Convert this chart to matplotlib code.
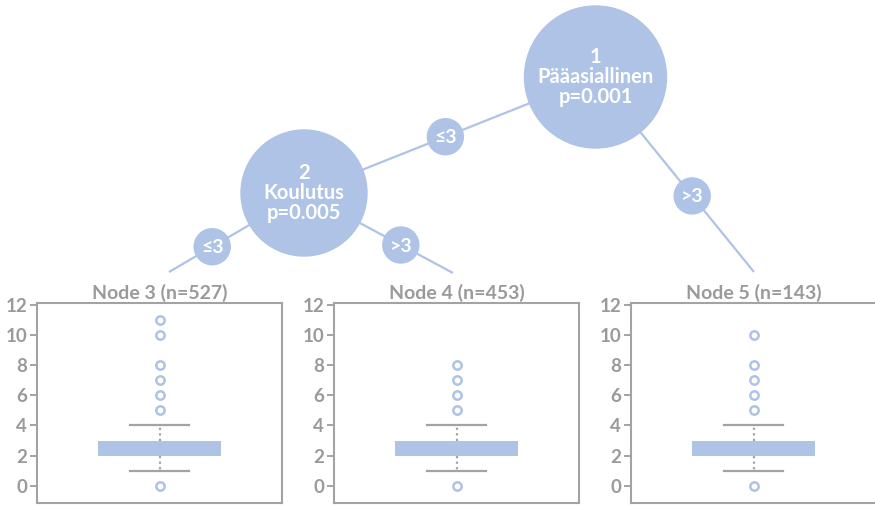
import matplotlib
matplotlib.use("Agg")
import matplotlib.pyplot as plt
from matplotlib.patches import Circle

# tree content
innerIds = [1, 2]
innerVars = ["Pääasiallinen", "Koulutus"]
innerP = ["0.001", "0.005"]
splitLabels = ["≤3", ">3", "≤3", ">3"]

# terminal nodes (box plot statistics)
leafIds = [3, 4, 5]
leafN = [527, 453, 143]
q1 = [2, 2, 2]
med = [2, 2, 2]
q3 = [3, 3, 3]
whisLo = [1, 1, 1]
whisHi = [4, 4, 4]
fliers = [
    [0, 5, 6, 7, 8, 10, 11],
    [0, 5, 6, 7, 8],
    [0, 5, 6, 7, 8, 10],
]

BLUE = "#aec3e6"
GREY = "#a3a3a3"
TXT = "#9a9a9a"
plt.rcParams["font.family"] = ["Lato", "DejaVu Sans"]

W, H = 875, 505
fig = plt.figure(figsize=(W / 100, H / 100), dpi=100)

# background axes in pixel coordinates for the tree
bg = fig.add_axes([0, 0, 1, 1])
bg.set_xlim(0, W)
bg.set_ylim(H, 0)
bg.axis("off")

nodePos = {1: (595.5, 77), 2: (304, 193)}
nodeR = {1: 71, 2: 63}
leafTop = {3: (169, 272), 4: (453, 273), 5: (754, 272)}
edges = [(1, 2, 0.515), (1, 5, 0.61), (2, 3, 0.68), (2, 4, 0.65)]
edgeLab = [splitLabels[0], splitLabels[1], splitLabels[2], splitLabels[3]]

for (a, b, t), lab in zip(edges, edgeLab):
    x0, y0 = nodePos[a]
    x1, y1 = nodePos[b] if b in nodePos else leafTop[b]
    bg.plot([x0, x1], [y0, y1], color=BLUE, lw=1.6, zorder=1,
            solid_capstyle="butt")
    lx, ly = x0 + (x1 - x0) * t, y0 + (y1 - y0) * t
    bg.add_patch(Circle((lx, ly), 18, color=BLUE, zorder=2))
    bg.text(lx, ly + 1, lab, color="white", fontsize=14, ha="center",
            va="center", zorder=3, fontweight="bold")

for i, nid in enumerate(innerIds):
    x, y = nodePos[nid]
    bg.add_patch(Circle((x, y), nodeR[nid], color=BLUE, zorder=2))
    bg.text(x, y, "%d\n%s\np=%s" % (nid, innerVars[i], innerP[i]),
            color="white", fontsize=14.5, ha="center", va="center",
            linespacing=1.0, zorder=3, fontweight="bold")

# terminal panels
panelLeft = [37, 334, 631]
panelW = 245
panelTop, panelBot = 302.7, 502.7
for i in range(3):
    ax = fig.add_axes([panelLeft[i] / W, (H - panelBot) / H,
                       panelW / W, (panelBot - panelTop) / H])
    stats = [dict(med=med[i], q1=q1[i], q3=q3[i], whislo=whisLo[i],
                  whishi=whisHi[i], fliers=fliers[i])]
    ax.bxp(stats, positions=[1], widths=0.5, capwidths=0.24,
           patch_artist=True,
           boxprops=dict(facecolor=BLUE, edgecolor=BLUE, linewidth=0),
           medianprops=dict(color=BLUE, linewidth=0),
           whiskerprops=dict(color=GREY, linestyle=(0, (1, 1.5)), linewidth=1.6),
           capprops=dict(color=GREY, linewidth=1.6),
           flierprops=dict(marker="o", markerfacecolor="none",
                           markeredgecolor=BLUE, markersize=6,
                           markeredgewidth=1.8))
    ax.set_xlim(0.5, 1.5)
    ax.set_ylim(-1.13, 12.15)
    ax.set_yticks(range(0, 13, 2))
    ax.set_xticks([])
    ax.tick_params(axis="y", colors=GREY, labelcolor=TXT, labelsize=13.5,
                   length=5, width=1.4, pad=2)
    for lab in ax.get_yticklabels():
        lab.set_fontweight("bold")
    for s in ax.spines.values():
        s.set_color(GREY)
        s.set_linewidth(1.5)
    ax.text(0.5, 1.005, "Node %d (n=%d)" % (leafIds[i], leafN[i]),
            transform=ax.transAxes, ha="center", va="bottom", color=TXT,
            fontsize=14, fontweight="bold")

fig.savefig("out.png", dpi=100)
